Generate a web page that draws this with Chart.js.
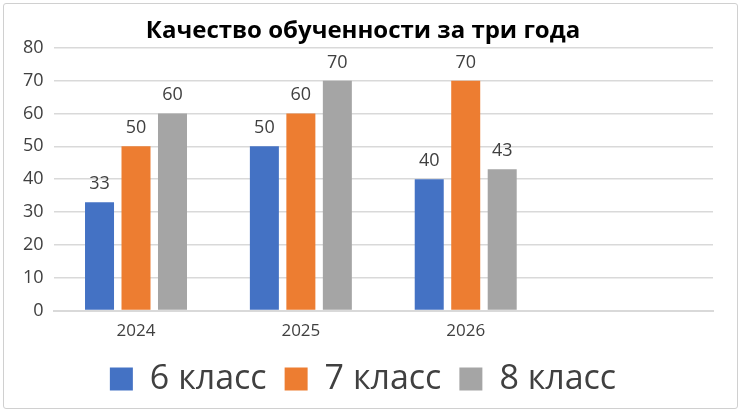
<!DOCTYPE html>
<html>
<head>
<meta charset="utf-8">
<script src="https://cdn.jsdelivr.net/npm/chart.js@4/dist/chart.umd.min.js"></script>
<style>
  body { margin: 0; background: #fff; }
  #wrap { position: absolute; left: 3px; top: 3px; width: 733px; height: 404px; border: 1px solid #d0d0d0; border-radius: 3px; }
</style>
</head>
<body>
<div id="wrap"><canvas id="chart"></canvas></div>
<script>
// данные диаграммы
const years = ["2024", "2025", "2026", ""];
const class6 = [33, 50, 40, null];
const class7 = [50, 60, 70, null];
const class8 = [60, 70, 43, null];
const seriesNames = ["6 класс", "7 класс", "8 класс"];
const colors = ["#4472c4", "#ed7d31", "#a5a5a5"];

const font = "'Open Sans', sans-serif";

// подписи значений над столбцами
const valueLabels = {
  id: "valueLabels",
  afterDatasetsDraw(chart) {
    const ctx = chart.ctx;
    ctx.save();
    ctx.fillStyle = "#404040";
    ctx.font = "18px " + font;
    ctx.textAlign = "center";
    ctx.textBaseline = "alphabetic";
    chart.data.datasets.forEach((ds, i) => {
      chart.getDatasetMeta(i).data.forEach((bar, j) => {
        if (ds.data[j] == null) return;
        ctx.fillText(ds.data[j], bar.x, bar.y - 13);
      });
    });
    ctx.restore();
  }
};

new Chart(document.getElementById("chart").getContext("2d"), {
  type: "bar",
  data: {
    labels: years,
    datasets: [
      { label: seriesNames[0], data: class6, backgroundColor: colors[0] },
      { label: seriesNames[1], data: class7, backgroundColor: colors[1] },
      { label: seriesNames[2], data: class8, backgroundColor: colors[2] },
    ],
  },
  options: {
    responsive: true,
    maintainAspectRatio: false,
    animation: false,
    layout: { padding: { left: 9, right: 24, top: 4, bottom: 2 } },
    datasets: { bar: { categoryPercentage: 0.664, barPercentage: 0.795 } },
    plugins: {
      title: {
        display: true,
        text: "Качество обученности за три года",
        color: "#000",
        font: { family: font, size: 24, weight: "bold" },
        padding: { top: 9, bottom: 2 },
      },
      legend: {
        position: "bottom",
        labels: {
          color: "#404040",
          font: { family: font, size: 34 },
          boxWidth: 23,
          boxHeight: 23,
          padding: 18,
        },
      },
      tooltip: { enabled: false },
    },
    scales: {
      x: {
        grid: { display: false },
        border: { color: "#d9d9d9", width: 2 },
        ticks: { color: "#404040", font: { family: font, size: 17, lineHeight: 1.5 }, padding: 0 },
      },
      y: {
        min: 0,
        max: 80,
        ticks: { stepSize: 10, color: "#404040", font: { family: font, size: 18 }, padding: 10 },
        grid: { color: "#d9d9d9", lineWidth: 1.5, drawTicks: false },
        border: { display: false },
      },
    },
  },
  plugins: [valueLabels],
});
</script>
</body>
</html>
